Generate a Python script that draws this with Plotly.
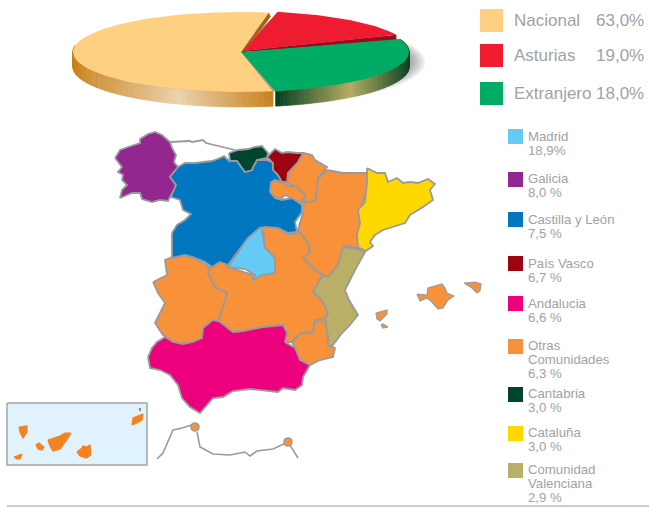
import math
import plotly.graph_objects as go

# ---------- data ----------
pie_names = ["Nacional", "Asturias", "Extranjero"]
pie_labels = ["63,0%", "19,0%", "18,0%"]
pie_colors = ["#FFD081", "#EF1C31", "#00AB63"]
# angular shares as actually drawn in the tilted pie
pie_drawn_shares = [55.7, 15.0, 27.0]

region_names = ["Madrid", "Galicia", "Castilla y León", "País Vasco", "Andalucia",
                "Otras<br>Comunidades", "Cantabria", "Cataluña", "Comunidad<br>Valenciana"]
region_labels = ["18,9%", "8,0 %", "7,5 %", "6,7 %", "6,6 %", "6,3 %", "3,0 %", "3,0 %", "2,9 %"]
region_colors = ["#66CBF4", "#93268F", "#0077C0", "#9A0510", "#EC007B",
                 "#F7923A", "#00452F", "#FFD800", "#B9AF66"]
legend_tops = [129, 172, 212, 256, 296, 339, 387, 426, 463]
legend_text_y = [136, 178, 219.5, 263, 303, 345, 393, 432, 469]

OTHER = "#F7923A"
ISLE = "#F58220"

galicia = [(115,158),(120,150),(128,147),(140,143),(140,139),(148,134),(155,132),(162,135),(170,142),(172,148),(176,155),(174,162),(178,167),(170,177),(176,185),(173,192),(170,197),(168,201),(160,200),(152,202),(142,199),(140,193),(132,193),(120,198),(122,190),(127,185),(122,180),(123,175),(118,172),(122,167)]
asturias_top = [(170,142),(190,141),(192,142),(200,141),(203,140),(206,143),(225,148),(235,150)]
cyl = [(178,167),(185,163),(195,163),(202,162),(212,161),(220,158),(224,156),(229,161),(237,161),(240,165),(245,172),(252,170),(253,167),(257,160),(267,160),(273,163),(273,170),(278,175),(282,182),(275,180),(271,182),(270,192),(275,198),(282,200),(292,198),(302,205),(302,212),(295,222),(297,232),(288,233),(278,228),(265,227),(260,228),(248,238),(238,252),(228,265),(220,262),(212,267),(205,262),(193,257),(185,255),(172,258),(172,233),(177,225),(185,220),(191,214),(183,210),(180,200),(171,197),(176,185),(170,177)]
cantabria = [(229,153),(238,150),(248,149),(255,147),(262,146),(268,153),(267,158),(257,160),(253,167),(252,170),(245,172),(240,165),(237,161),(230,161)]
pais_vasco = [(267,157),(275,149),(282,153),(288,152),(297,153),(303,153),(298,162),(293,167),(288,173),(287,182),(282,182),(278,175),(273,170),(273,163)]
madrid = [(261,227),(265,248),(275,258),(275,273),(262,275),(253,280),(255,275),(245,269),(228,267),(238,252),(248,238)]
clm = [(209,267),(212,267),(220,262),(228,265),(228,267),(253,275),(253,280),(262,275),(275,273),(275,258),(265,248),(263,227),(277,227),(287,234),(295,234),(298,230),(308,243),(310,252),(304,258),(313,268),(323,275),(313,292),(322,300),(328,313),(325,319),(315,320),(313,332),(300,334),(292,342),(285,342),(287,333),(283,325),(263,327),(243,331),(233,332),(220,322),(218,321),(223,307),(227,293),(215,287),(208,273)]
extremadura = [(153,282),(167,275),(165,260),(172,257),(183,255),(193,258),(205,264),(209,267),(208,273),(215,287),(227,293),(223,307),(218,321),(203,328),(202,338),(193,342),(183,344),(173,342),(163,335),(155,323),(165,303),(158,293)]
andalucia = [(148,357),(152,348),(157,342),(165,337),(173,342),(183,344),(193,342),(202,338),(203,328),(213,320),(220,322),(233,332),(243,331),(263,327),(283,325),(287,333),(285,342),(295,348),(300,360),(310,365),(303,377),(302,385),(295,390),(283,388),(278,392),(260,390),(250,389),(233,391),(223,397),(213,398),(200,413),(190,407),(182,398),(178,385),(170,375),(160,370),(150,368)]
murcia = [(292,342),(300,334),(313,332),(315,322),(325,319),(328,337),(328,345),(335,348),(333,357),(320,360),(310,365),(300,360),(295,348)]
valencia = [(343,247),(352,248),(365,252),(355,270),(345,290),(349,300),(358,315),(350,325),(342,333),(333,345),(328,346),(328,337),(325,319),(328,313),(322,300),(313,292),(323,275),(328,277),(338,265),(341,255)]
aragon = [(303,258),(310,252),(308,243),(298,230),(303,212),(300,202),(315,200),(313,183),(327,170),(343,173),(367,173),(368,187),(360,210),(362,220),(357,240),(362,249),(345,246),(340,263),(330,277),(323,275),(313,268)]
rioja = [(273,180),(282,182),(287,185),(297,187),(305,195),(302,203),(295,200),(285,195),(280,200),(272,195),(269,188)]
navarra = [(303,153),(312,155),(315,160),(327,167),(318,178),(316,200),(305,203),(305,195),(297,187),(287,183),(288,173),(293,167),(298,162)]
cataluna = [(367,168),(377,173),(385,173),(388,182),(397,178),(403,183),(410,182),(418,183),(428,179),(435,184),(430,190),(433,200),(423,207),(410,215),(405,223),(383,230),(375,235),(370,242),(373,246),(366,251),(358,247),(357,235),(360,223),(358,210),(365,202),(367,183)]
mallorca = [(417,294),(427,295),(428,288),(442,284),(445,288),(447,293),(454,296),(448,300),(443,308),(438,309),(432,302),(427,298),(420,301)]
menorca = [(464,283),(475,282),(481,284),(480,291),(477,293),(472,288)]
ibiza = [(376,313),(387,310),(387,314),(380,321),(377,319)]
formentera = [(381,325),(383,324),(388,327),(383,328)]
canary_box = [(7,403),(147,403),(147,465),(7,465)]
la_palma = [(19,427),(27,426),(27,432),(23,438),(20,432)]
gomera = [(36,445),(39,443),(44,447),(42,450),(38,449)]
tenerife = [(48,440),(55,438),(60,436),(65,433),(71,433),(68,438),(64,444),(60,449),(53,451),(50,446)]
gran_canaria = [(77,452),(82,448),(83,446),(87,447),(90,445),(91,455),(86,458),(80,456)]
el_hierro = [(14,457),(20,455),(22,454),(20,459),(17,459)]
lanzarote = [(132,425),(133,418),(143,414),(142,420),(137,423)]
islet = [(140,408),(140,411)]
ceuta_coast = [(157,459),(163,453),(173,430),(182,428),(195,424)]
morocco_coast = [(197,432),(200,447),(213,454),(230,455),(245,452),(250,456),(257,451),(273,449),(288,442),(298,458)]
cities = [(195,427),(288,442)]
rule_line = [(7,506),(649,506)]

# ---------- helpers ----------
fig = go.Figure()
GREY = "#9A9A9E"
TXT = "#A0A2A6"


def poly(pts, fill, line=None, width=0.0, close=True, opacity=1.0):
    xs = [p[0] for p in pts]
    ys = [p[1] for p in pts]
    if close:
        xs.append(xs[0]); ys.append(ys[0])
    fig.add_trace(go.Scatter(
        x=xs, y=ys, mode="lines", fill="toself" if fill else "none",
        fillcolor=fill, opacity=opacity,
        line=dict(color=line or fill or GREY, width=width),
        hoverinfo="skip", showlegend=False))


def mix(a, b, f):
    ca = [int(a[i:i+2], 16) for i in (1, 3, 5)]
    cb = [int(b[i:i+2], 16) for i in (1, 3, 5)]
    return "#%02x%02x%02x" % tuple(round(x + (y - x) * f) for x, y in zip(ca, cb))


# ---------- pie ----------
CX, CY, RX, RY, DEPTH = 241, 52, 168, 40, 15
offs = [(0, 0), (2, -1), (0, 0)]
gaps = [2.4, 5.0, 1.0]
start = 169.0
angles = []
a = start
for s, g in zip(pie_drawn_shares, gaps):
    b = a + s * 3.6
    angles.append((a, b))
    a = b + g


def pt(t, off=(0, 0), dy=0):
    r = math.radians(t)
    return (CX + off[0] + RX * math.sin(r), CY + off[1] - RY * math.cos(r) + dy)


def arc(a, b, off=(0, 0), dy=0, step=2.0):
    n = max(2, int((b - a) / step))
    return [pt(a + (b - a) * i / n, off, dy) for i in range(n + 1)]


# soft shadow: nested translucent ellipses
for i in range(8):
    f = i / 7
    rx_s, ry_s = 168 - 18 * f, 43 - 9 * f
    e = [(257 + rx_s * math.sin(math.radians(t)), 62 - ry_s * math.cos(math.radians(t)))
         for t in range(0, 361, 4)]
    poly(e, "#5A5C62", opacity=0.1)
poly([(273, 91), (277, 92), (277, 108), (273, 108)], "#FFFFFF")

# Nacional walls
(na, nb) = angles[0]
apex = (CX, CY)
p1 = pt(na)
poly([apex, p1, (p1[0], p1[1] + DEPTH - 4), (apex[0], apex[1] + DEPTH)], "#A9620F")
p2 = pt(nb)
poly([apex, p2, (p2[0] + 2, p2[1] + 4), (apex[0] + 1, apex[1] + 2)], "#A9620F")


def rim(a, b, off, stops, step=0.8):
    n = int((b - a) / step)
    for i in range(n):
        t0 = a + (b - a) * i / n
        t1 = a + (b - a) * (i + 1) / n
        if math.cos(math.radians((t0 + t1) / 2)) > 0.45:
            continue
        q0, q1 = pt(t0, off), pt(t1, off)
        xm = (q0[0] + q1[0]) / 2
        col = stops[-1][1]
        for (x0, c0), (x1, c1) in zip(stops, stops[1:]):
            if x0 <= xm <= x1:
                col = mix(c0, c1, (xm - x0) / (x1 - x0))
                break
        poly([q0, q1, (q1[0], q1[1] + DEPTH), (q0[0], q0[1] + DEPTH)], col, col, 0.6)


rim(na, min(nb, 280), offs[0], [(70, "#C98018"), (178, "#ECD3AE"), (275, "#C98018")])
poly([apex] + arc(na, nb, offs[0]), pie_colors[0])

# Asturias
(ra, rb) = angles[1]
ro = offs[1]
ap_r = (CX + ro[0], CY + ro[1])
pe = pt(rb, ro)
poly([ap_r, pe, (pe[0], pe[1] + 6), (ap_r[0], ap_r[1] + 1)], "#9C0A1F")
poly([ap_r] + arc(ra, rb, ro), pie_colors[1])

# Extranjero
(ga, gb) = angles[2]
rim(ga, gb, offs[2], [(275, "#033D1E"), (350, "#B5AE63"), (412, "#03401F")])
poly([apex] + arc(ga, gb, offs[2]), pie_colors[2])

# ---------- map ----------
STROKE = 1.8
poly(asturias_top, None, GREY, STROKE, close=False)
regions = [
    (clm, OTHER), (extremadura, OTHER), (aragon, OTHER), (murcia, OTHER),
    (navarra, OTHER), (rioja, OTHER),
    (galicia, region_colors[1]), (cyl, region_colors[2]), (madrid, region_colors[0]),
    (andalucia, region_colors[4]), (valencia, region_colors[8]),
    (cantabria, region_colors[6]), (pais_vasco, region_colors[3]), (cataluna, region_colors[7]),
]
for pts, col in regions:
    poly(pts, col, GREY, STROKE)
for pts in (mallorca, menorca, ibiza, formentera):
    poly(pts, OTHER, GREY, 1.2)

poly(canary_box, "#E0F2FC", "#A3A7AB", 1.5)
for isl in (la_palma, gomera, tenerife, gran_canaria, el_hierro, lanzarote):
    poly(isl, ISLE, ISLE, 1.2)
poly(islet, None, "#8C8C96", 2, close=False)

poly(ceuta_coast, None, GREY, 1.6, close=False)
poly(morocco_coast, None, GREY, 1.6, close=False)
fig.add_trace(go.Scatter(
    x=[c[0] for c in cities], y=[c[1] for c in cities], mode="markers",
    marker=dict(size=8, color=OTHER, line=dict(color=GREY, width=1.6)),
    hoverinfo="skip", showlegend=False))
poly(rule_line, None, "#7FA89E", 1.2, close=False)

# ---------- legends ----------
annots = []
font_big = dict(family="Liberation Sans", size=17, color=TXT)
for i, (n, lab, col) in enumerate(zip(pie_names, pie_labels, pie_colors)):
    top = [9, 44, 82][i]
    poly([(480, top), (503, top), (503, top + 23), (480, top + 23)], col)
    annots.append(dict(x=513, y=top + 11.5, text=n, xanchor="left", yanchor="middle", font=font_big))
    annots.append(dict(x=645, y=top + 11.5, text=lab, xanchor="right", yanchor="middle", font=font_big))

font_small = dict(family="Liberation Sans", size=13.2, color=TXT)
for name, lab, col, top, ty in zip(region_names, region_labels, region_colors, legend_tops, legend_text_y):
    poly([(508, top), (523, top), (523, top + 15), (508, top + 15)], col)
    lines = name.split("<br>") + [lab]
    for j, s in enumerate(lines):
        annots.append(dict(x=527, y=ty + j * 14, text=s, xanchor="left", yanchor="middle", font=font_small))

for an in annots:
    an.update(xref="x", yref="y", showarrow=False, borderpad=0)

fig.update_layout(
    width=649, height=507, margin=dict(l=0, r=0, t=0, b=0),
    paper_bgcolor="white", plot_bgcolor="white", annotations=annots,
    xaxis=dict(range=[0, 649], visible=False, fixedrange=True),
    yaxis=dict(range=[507, 0], visible=False, fixedrange=True),
)
fig.write_html("out.html", config={"displayModeBar": False}, post_script="document.body.style.margin='0';")
